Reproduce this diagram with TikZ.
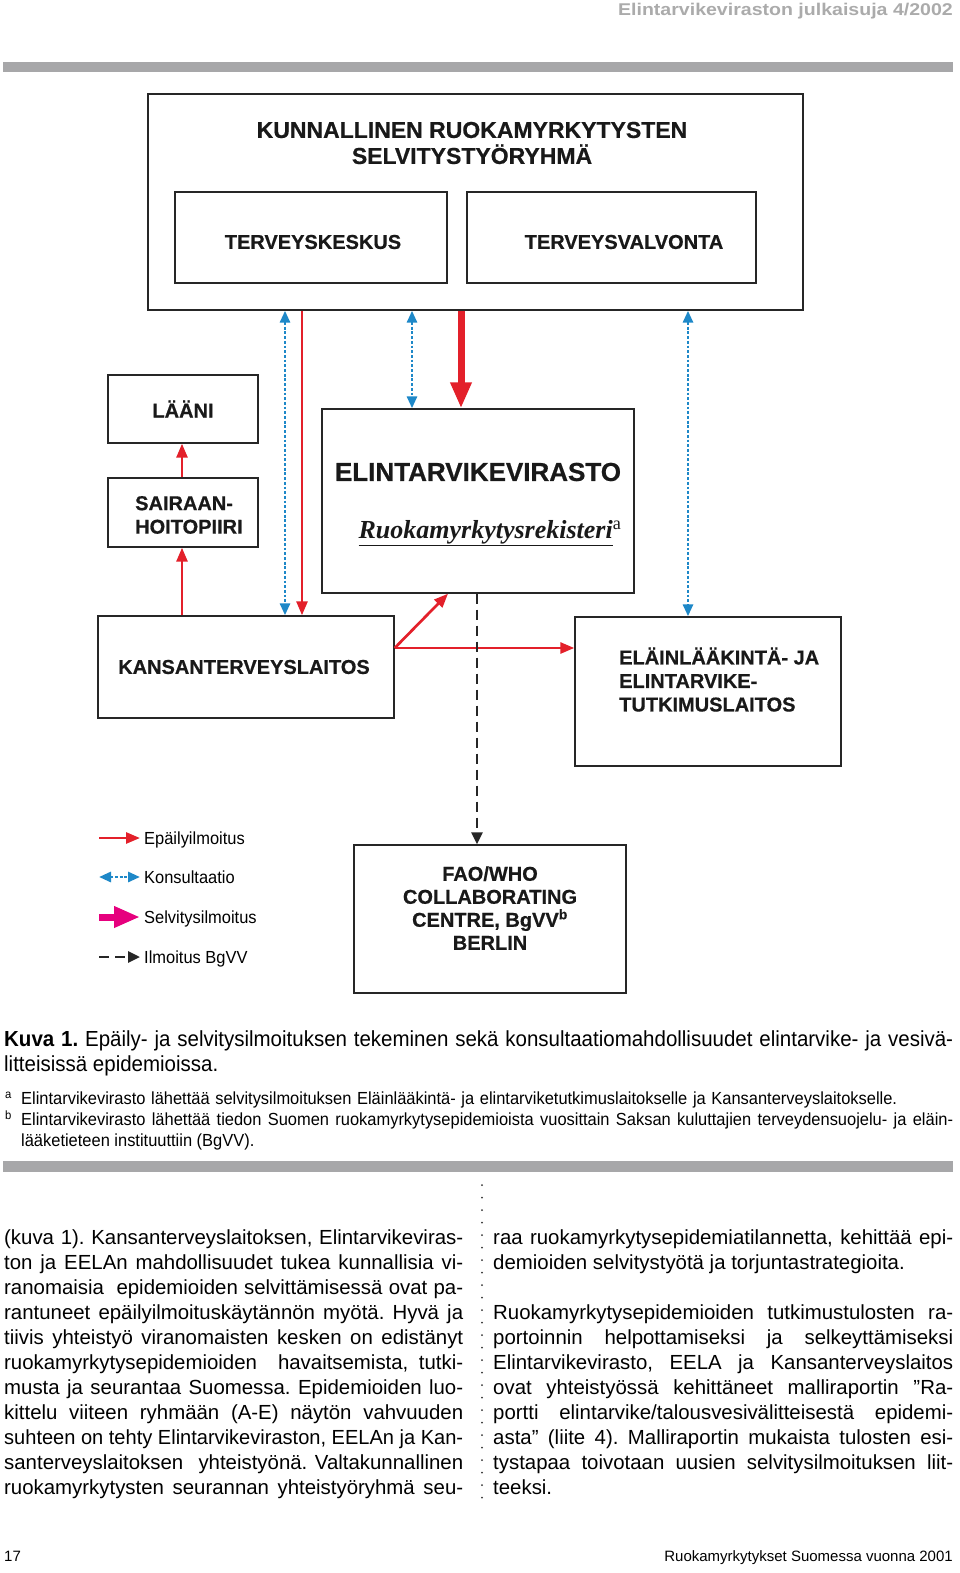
\documentclass[tikz,border=0pt]{standalone}
\usepackage{fontspec}
\usepackage{graphicx}
\setmainfont{Liberation Sans}
\newfontfamily\hdrfont[FakeStretch=1.15]{Liberation Sans}
\newfontfamily\capfont[FakeStretch=0.94]{Liberation Sans}
\newfontfamily\lblfont[FakeBold=0.6]{Liberation Sans}
\newfontfamily\rekfont{Liberation Serif}
\usetikzlibrary{arrows.meta}
\definecolor{ilmRed}{HTML}{E3202A}
\definecolor{konsBlue}{HTML}{1E88C8}
\definecolor{selvPink}{HTML}{E6007E}
\definecolor{barGray}{HTML}{A7A7A9}
\definecolor{hdrGray}{HTML}{ABABAB}
\frenchspacing

% one justified line of a given width
\newcommand\jline[2]{\setbox0\hbox{#2}%
  \ifdim\wd0>#1\relax\resizebox{#1}{\height}{\box0}\else\hbox to #1{#2}\fi}

\tikzset{
  box/.style={draw=black!85, line width=1.4pt, inner sep=0pt},
  lbl/.style={inner sep=0pt, text=black!90, font=\lblfont\bfseries\fontsize{20}{23.5}\selectfont},
  epail/.style={ilmRed, line width=2.7pt, -{Triangle[length=14pt,width=11pt]}},
  konsult/.style={konsBlue, line width=2.8pt, dash pattern=on 2.8pt off 1.9pt,
    {Triangle[length=12pt,width=10pt]}-{Triangle[length=12pt,width=10pt]}},
  selv/.style={line width=7pt, -{Triangle[length=26pt,width=20pt]}},
  bgvv/.style={black!85, line width=2.7pt, dash pattern=on 10pt off 6pt, -{Triangle[length=12pt,width=11pt]}},
  leg/.style={anchor=base west, inner sep=0pt, font=\capfont\fontsize{17.5}{20}\selectfont},
  body/.style={anchor=base west, inner sep=0pt, font=\fontsize{20.4}{25}\selectfont},
  capt/.style={anchor=base west, inner sep=0pt, font=\capfont\fontsize{21.8}{25}\selectfont},
  fnote/.style={anchor=base west, inner sep=0pt, font=\capfont\fontsize{17.5}{21}\selectfont},
}

\begin{document}
\begin{tikzpicture}[x=1pt,y=-1pt]
    \useasboundingbox (0,0) rectangle (960,1573);
    \fill[white] (0,0) rectangle (960,1573);

    % page head
    \node[anchor=base east, inner sep=0pt, text=hdrGray, font=\hdrfont\bfseries\fontsize{17}{20}\selectfont] (head) at (953,16) {Elintarvikeviraston julkaisuja 4/2002};
    \fill[barGray] (3,62) rectangle (953,72);

    % boxes
    \node[box, minimum width=655pt, minimum height=216pt] (kunta) at (475.5,202) {};
    \node[box, minimum width=272pt, minimum height=91pt] (tk) at (311,237.5) {};
    \node[box, minimum width=289pt, minimum height=91pt] (tv) at (611.5,237.5) {};
    \node[box, minimum width=150pt, minimum height=68pt] (laani) at (183,409) {};
    \node[box, minimum width=150pt, minimum height=69pt] (shp) at (183,512.5) {};
    \node[box, minimum width=312pt, minimum height=184pt] (evira) at (478,501) {};
    \node[box, minimum width=296pt, minimum height=102pt] (ktl) at (246,667) {};
    \node[box, minimum width=266pt, minimum height=149pt] (eela) at (708,691.5) {};
    \node[box, minimum width=272pt, minimum height=148pt] (fao) at (490,919) {};

    % texts in the boxes
    \node[lbl, align=center, font=\lblfont\bfseries\fontsize{23}{26}\selectfont] (kuntaTxt) at (472,143) {KUNNALLINEN RUOKAMYRKYTYSTEN\\SELVITYSTYÖRYHMÄ};
    \node[lbl] (tkTxt) at (313,242) {TERVEYSKESKUS};
    \node[lbl] (tvTxt) at (624,242) {TERVEYSVALVONTA};
    \node[lbl] (laaniTxt) at (183,409) {LÄÄNI};
    \node[lbl, align=left, anchor=west] (shpTxt) at (135,515) {SAIRAAN-\\HOITOPIIRI};
    \node[lbl, font=\lblfont\bfseries\fontsize{26}{30}\selectfont] (eviraTxt) at (478,472) {ELINTARVIKEVIRASTO};
    \node[lbl, font=\rekfont\fontsize{26}{30}\selectfont] (rekTxt) at (490,533)
        {\underline{\bfseries\itshape Ruokamyrkytysrekisteri}\textsuperscript{a}};
    \node[lbl] (ktlTxt) at (244,667) {KANSANTERVEYSLAITOS};
    \node[lbl, align=left, anchor=west] (eelaTxt) at (619,679.5) {ELÄINLÄÄKINTÄ- JA\\ELINTARVIKE-\\TUTKIMUSLAITOS};
    \node[lbl, align=center, font=\lblfont\bfseries\fontsize{20}{23}\selectfont] (faoTxt) at (490,908) {FAO/WHO\\COLLABORATING\\CENTRE, BgVV\textsuperscript{b}\\BERLIN};

    % connectors
    \draw[konsult] (285,0 |- kunta.south) -- (285,0 |- ktl.north);
    \draw[epail] (302,0 |- kunta.south) -- (302,0 |- ktl.north);
    \draw[konsult] (412,0 |- kunta.south) -- (412,0 |- evira.north);
    \draw[selv, ilmRed] (461,0 |- kunta.south) -- (461,0 |- evira.north);
    \draw[konsult] (688,0 |- kunta.south) -- (688,0 |- eela.north);
    \draw[epail] (182,0 |- ktl.north) -- (182,0 |- shp.south);
    \draw[epail] (182,0 |- shp.north) -- (182,0 |- laani.south);
    \draw[epail] (ktl.east |- 0,648) -- (448,0 |- evira.south);
    \draw[epail] (ktl.east |- 0,648) -- (eela.west |- 0,648);
    \draw[bgvv] (477,0 |- evira.south) -- (477,0 |- fao.north);

    % legend
    \node[leg] (leg1) at (144,844) {Epäilyilmoitus};
    \node[leg] (leg2) at (144,883) {Konsultaatio};
    \node[leg] (leg3) at (144,923) {Selvitysilmoitus};
    \node[leg] (leg4) at (144,963) {Ilmoitus BgVV};
    \draw[epail] (99,838) -- (140,838);
    \draw[konsult] (99,877) -- (140,877);
    \draw[selv, selvPink] (99,917) -- (140,917);
    \draw[bgvv] (99,957) -- (140,957);

    % caption
    \node[capt] (cap1) at (4,1046) {\jline{949pt}{\bfseries Kuva 1.\mdseries{} Epäily- ja selvitysilmoituksen tekeminen sekä konsultaatiomahdollisuudet elintarvike- ja vesivä-}};
    \node[capt] (cap2) at (4,1071) {litteisissä epidemioissa.};
    \node[fnote, font=\capfont\fontsize{12}{14}\selectfont] (fa) at (5,1098) {a};
    \node[fnote] (fn1) at (21,1104) {\jline{876pt}{Elintarvikevirasto lähettää selvitysilmoituksen Eläinlääkintä- ja elintarviketutkimuslaitokselle ja Kansanterveyslaitokselle.}};
    \node[fnote, font=\capfont\fontsize{12}{14}\selectfont] (fb) at (5,1119) {b};
    \node[fnote] (fn2) at (21,1125) {\jline{932pt}{Elintarvikevirasto lähettää tiedon Suomen ruokamyrkytysepidemioista vuosittain Saksan kuluttajien terveydensuojelu- ja eläin-}};
    \node[fnote] (fn3) at (21,1146) {lääketieteen instituuttiin (BgVV).};
    \fill[barGray] (3,1161) rectangle (953,1172);

    % body text, left column
    \node[body] (l1) at (4,1244) {\jline{459pt}{(kuva 1). Kansanterveyslaitoksen, Elintarvikeviras-}};
    \node[body] (l2) at (4,1269) {\jline{459pt}{ton ja EELAn mahdollisuudet tukea kunnallisia vi-}};
    \node[body] (l3) at (4,1294) {\jline{459pt}{ranomaisia \ epidemioiden selvittämisessä ovat pa-}};
    \node[body] (l4) at (4,1319) {\jline{459pt}{rantuneet epäilyilmoituskäytännön myötä. Hyvä ja}};
    \node[body] (l5) at (4,1344) {\jline{459pt}{tiivis yhteistyö viranomaisten kesken on edistänyt}};
    \node[body] (l6) at (4,1369) {\jline{459pt}{ruokamyrkytysepidemioiden \ havaitsemista, tutki-}};
    \node[body] (l7) at (4,1394) {\jline{459pt}{musta ja seurantaa Suomessa. Epidemioiden luo-}};
    \node[body] (l8) at (4,1419) {\jline{459pt}{kittelu viiteen ryhmään (A-E) näytön vahvuuden}};
    \node[body] (l9) at (4,1444) {\jline{459pt}{suhteen on tehty Elintarvikeviraston, EELAn ja Kan-}};
    \node[body] (l10) at (4,1469) {\jline{459pt}{santerveyslaitoksen \ yhteistyönä. Valtakunnallinen}};
    \node[body] (l11) at (4,1494) {\jline{459pt}{ruokamyrkytysten seurannan yhteistyöryhmä seu-}};

    % column rule
    \foreach \y in {1185,1197.5,...,1500}
        \fill[black!80] (482,\y) circle (1pt);

    % body text, right column
    \node[body] (r1) at (493,1244) {\jline{460pt}{raa ruokamyrkytysepidemiatilannetta, kehittää epi-}};
    \node[body] (r2) at (493,1269) {demioiden selvitystyötä ja torjuntastrategioita.};
    \node[body] (r3) at (493,1319) {\jline{460pt}{Ruokamyrkytysepidemioiden tutkimustulosten ra-}};
    \node[body] (r4) at (493,1344) {\jline{460pt}{portoinnin helpottamiseksi ja selkeyttämiseksi}};
    \node[body] (r5) at (493,1369) {\jline{460pt}{Elintarvikevirasto, EELA ja Kansanterveyslaitos}};
    \node[body] (r6) at (493,1394) {\jline{460pt}{ovat yhteistyössä kehittäneet malliraportin ”Ra-}};
    \node[body] (r7) at (493,1419) {\jline{460pt}{portti elintarvike/talousvesivälitteisestä epidemi-}};
    \node[body] (r8) at (493,1444) {\jline{460pt}{asta\symbol{34} (liite 4). Malliraportin mukaista tulosten esi-}};
    \node[body] (r9) at (493,1469) {\jline{460pt}{tystapaa toivotaan uusien selvitysilmoituksen liit-}};
    \node[body] (r10) at (493,1494) {teeksi.};

    % page foot
    \node[anchor=base west, inner sep=0pt, font=\fontsize{15}{18}\selectfont] (pnum) at (4,1561) {17};
    \node[anchor=base east, inner sep=0pt, font=\fontsize{15}{18}\selectfont] (foot) at (953,1561) {Ruokamyrkytykset Suomessa vuonna 2001};
\end{tikzpicture}
\end{document}
